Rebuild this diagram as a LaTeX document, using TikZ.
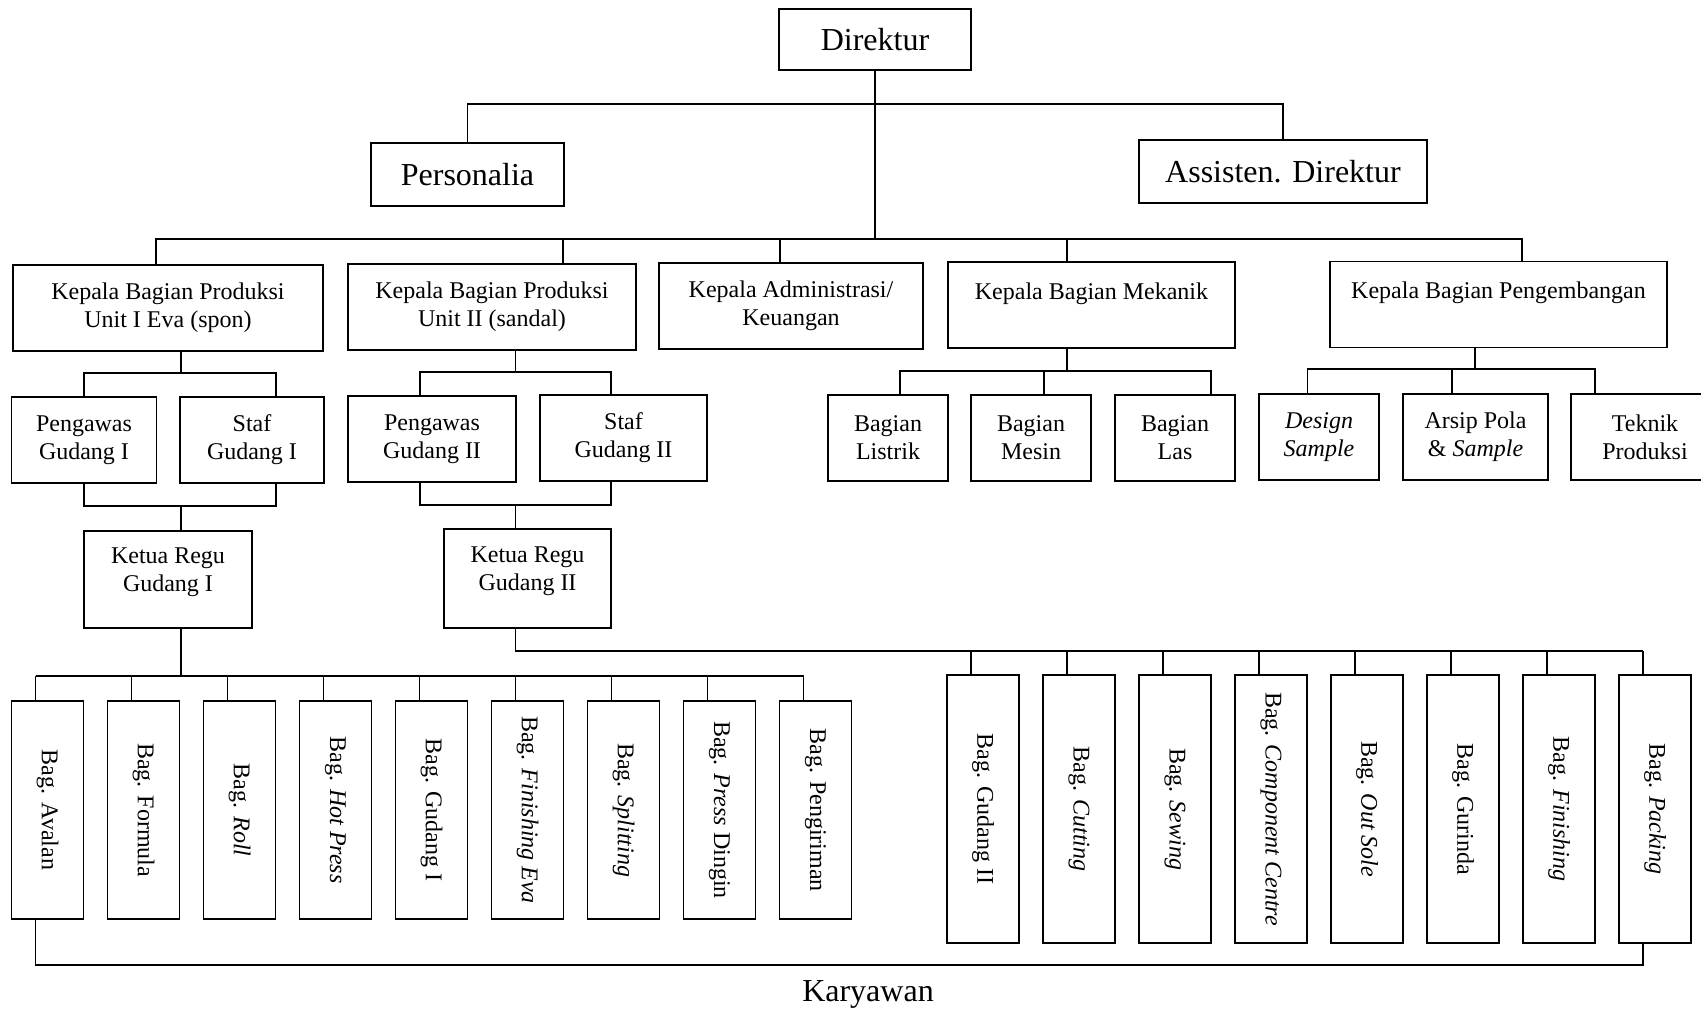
\documentclass[tikz,border=0pt]{standalone}
\usepackage{fontspec}
\setmainfont{Liberation Serif}
\usepackage{graphicx}

\begin{document}
\begin{tikzpicture}[x=1pt,y=-1pt,line width=1.8pt,
    kotak/.style={draw, rectangle, inner sep=0pt, align=center, font=\fontsize{24}{28}\selectfont},
    besar/.style={kotak, font=\fontsize{32}{36}\selectfont},
    tegak/.style={kotak, minimum width=72pt}]
    \useasboundingbox (0,0) rectangle (1701,1012);

    % pimpinan
    \node[besar, minimum width=192pt, minimum height=61pt] (dir)  at (875,39.5)   {Direktur};
    \node[besar, minimum width=193pt, minimum height=63pt] (pers) at (467.5,174.5) {Personalia};
    \node[besar, minimum width=288pt, minimum height=63pt] (asst) at (1283,171.5)  {Assisten. Direktur};

    % kepala bagian
    \begin{scope}[minimum height=86pt]
    \node[kotak, minimum width=310pt] (kbp1)  at (168,308)    {Kepala Bagian Produksi\\Unit I Eva (spon)};
    \node[kotak, minimum width=288pt] (kbp2)  at (492,307)    {Kepala Bagian Produksi\\Unit II (sandal)};
    \node[kotak, minimum width=264pt] (kadm)  at (791,306)    {Kepala Administrasi/\\Keuangan};
    \node[kotak, minimum width=287pt] (kmek)  at (1091.5,305) {Kepala Bagian Mekanik\\\mbox{}};
    \node[kotak, minimum width=337pt] (kpeng) at (1498.5,304.5) {Kepala Bagian Pengembangan\\\mbox{}};
    \end{scope}

    % gudang
    \begin{scope}[minimum height=86pt]
    \node[kotak, minimum width=145pt] (pg1) at (84,440)    {Pengawas\\Gudang I};
    \node[kotak, minimum width=144pt] (sg1) at (252,440)   {Staf\\Gudang I};
    \node[kotak, minimum width=168pt] (pg2) at (432,439)   {Pengawas\\Gudang II};
    \node[kotak, minimum width=167pt] (sg2) at (623.5,438) {Staf\\Gudang II};
    \node[kotak, minimum width=120pt] (lis) at (888,438)   {Bagian\\Listrik};
    \node[kotak, minimum width=120pt] (mes) at (1031,438)  {Bagian\\Mesin};
    \node[kotak, minimum width=120pt] (las) at (1175,438)  {Bagian\\Las};
    \node[kotak, minimum width=120pt] (dsg) at (1319,437)  {\textit{Design}\\\textit{Sample}};
    \node[kotak, minimum width=145pt] (arp) at (1475.5,437) {Arsip Pola\\\& \textit{Sample}};
    \node[kotak, minimum width=148pt] (tek) at (1645,437)  {Teknik\\Produksi};
    \end{scope}
    \node[kotak, minimum width=168pt, minimum height=97pt] (kr1) at (168,579.5)   {Ketua Regu\\Gudang I\\[-8pt]\mbox{}};
    \node[kotak, minimum width=167pt, minimum height=99pt] (kr2) at (527.5,578.5) {Ketua Regu\\Gudang II\\[-8pt]\mbox{}};

    % bagian unit I
    \foreach \teks [count=\i from 0] in {{Bag. Avalan},{Bag. Formula},{Bag. \textit{Roll}},{Bag. \textit{Hot Press}},
        {Bag. Gudang I},{Bag. \textit{Finishing Eva}},{Bag. \textit{Splitting}},{Bag. \textit{Press} Dingin},{Bag. Pengiriman}}
    {
        \node[tegak, minimum height=218pt] (ba\i) at ({47.5+96*\i},810) {\rotatebox{-90}{\teks}};
        \coordinate (ta\i) at ([xshift=-12pt]ba\i.north);
    }
    % bagian unit II
    \foreach \teks [count=\i from 0] in {{Bag. Gudang II},{Bag. \textit{Cutting}},{Bag. \textit{Sewing}},{Bag. \textit{Component Centre}},
        {Bag. \textit{Out Sole}},{Bag. Gurinda},{Bag. \textit{Finishing}},{Bag. \textit{Packing}}}
    {
        \node[tegak, minimum height=268pt] (bb\i) at ({983+96*\i},809) {\rotatebox{-90}{\teks}};
        \coordinate (tb\i) at ([xshift=-12pt]bb\i.north);
    }

    \node[font=\fontsize{32}{36}\selectfont] (kar) at (868,994) {Karyawan};

    % garis direktur
    \coordinate (bus1) at (875,104);
    \coordinate (bus2) at (875,239);
    \draw (dir.south) -- (bus2);
    \draw (pers.north) |- (bus1) -| (asst.north);
    \coordinate (k1) at ([xshift=-12pt]kbp1.north);
    \coordinate (k2) at ([xshift=71pt]kbp2.north);
    \coordinate (k3) at ([xshift=-11pt]kadm.north);
    \coordinate (k4) at ([xshift=-24.5pt]kmek.north);
    \coordinate (k5) at ([xshift=23.5pt]kpeng.north);
    \draw (k1) |- (bus2) -| (k5);
    \foreach \k in {k2,k3,k4}
        \draw (\k) -- (\k |- bus2);

    % gudang I
    \coordinate (u1) at ([xshift=13pt]kbp1.south);
    \coordinate (u1a) at (0,373);
    \coordinate (u1b) at (0,506);
    \coordinate (s1) at ([xshift=24pt]sg1.north);
    \coordinate (s1b) at ([xshift=24pt]sg1.south);
    \coordinate (r1) at ([xshift=13pt]kr1.north);
    \draw (u1) -- (u1 |- u1a);
    \draw (pg1.north) |- (u1 |- u1a) -| (s1);
    \draw (pg1.south) |- (r1 |- u1b) -| (s1b);
    \draw (r1) -- (r1 |- u1b);

    % gudang II
    \coordinate (u2) at ([xshift=23.5pt]kbp2.south);
    \coordinate (u2a) at (0,372);
    \coordinate (u2b) at (0,505);
    \coordinate (p2) at ([xshift=-12pt]pg2.north);
    \coordinate (p2b) at ([xshift=-12pt]pg2.south);
    \coordinate (s2) at ([xshift=-12.5pt]sg2.north);
    \coordinate (s2b) at ([xshift=-12.5pt]sg2.south);
    \coordinate (r2) at ([xshift=-12pt]kr2.north);
    \draw (u2) -- (u2 |- u2a);
    \draw (p2) |- (u2 |- u2a) -| (s2);
    \draw (p2b) |- (r2 |- u2b) -| (s2b);
    \draw (r2) -- (r2 |- u2b);

    % mekanik
    \coordinate (m0) at ([xshift=-24.5pt]kmek.south);
    \coordinate (m1) at ([xshift=12pt]lis.north);
    \coordinate (m2) at ([xshift=13pt]mes.north);
    \coordinate (m3) at ([xshift=36pt]las.north);
    \coordinate (mbus) at (0,371);
    \draw (m1) |- (m0 |- mbus) -| (m3);
    \draw (m0) -- (m0 |- mbus);
    \draw (m2) -- (m2 |- mbus);

    % pengembangan
    \coordinate (g0) at ([xshift=-23.5pt]kpeng.south);
    \coordinate (g1) at ([xshift=-11.5pt]dsg.north);
    \coordinate (g2) at ([xshift=-23.5pt]arp.north);
    \coordinate (g3) at ([xshift=-50pt]tek.north);
    \coordinate (gbus) at (0,369);
    \draw (g1) |- (g0 |- gbus) -| (g3);
    \draw (g0) -- (g0 |- gbus);
    \draw (g2) -- (g2 |- gbus);

    % bagian produksi
    \coordinate (t1) at ([xshift=13pt]kr1.south);
    \coordinate (t2) at ([xshift=-12pt]kr2.south);
    \coordinate (busA) at (0,676);
    \coordinate (busB) at (0,651);
    \draw (ta0 |- busA) -- (ta8 |- busA);
    \draw (t1) -- (t1 |- busA);
    \foreach \i in {0,...,8}
        \draw (ta\i) -- (ta\i |- busA);
    \draw (t2) |- (tb7 |- busB);
    \foreach \i in {0,...,7}
        \draw (tb\i) -- (tb\i |- busB);

    % karyawan
    \coordinate (bawah) at (0,965);
    \draw ([xshift=-12pt]ba0.south) |- ([xshift=-12pt]bb7.south |- bawah) -- ([xshift=-12pt]bb7.south);
\end{tikzpicture}
\end{document}
